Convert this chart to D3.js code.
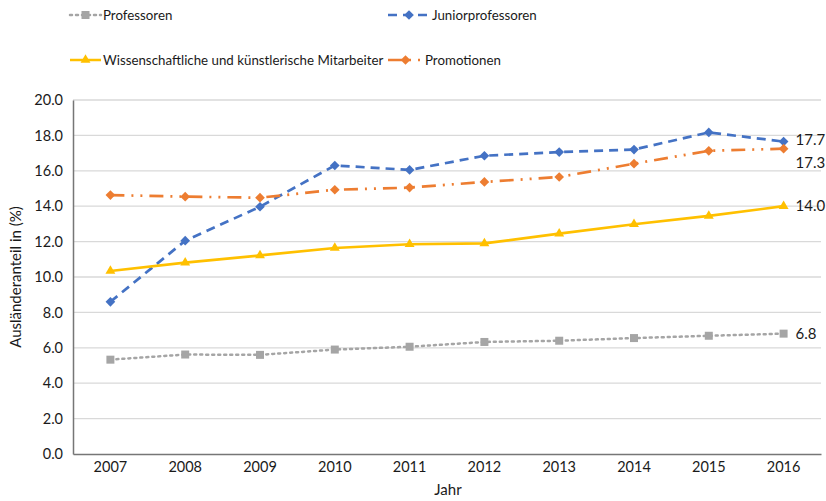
<!DOCTYPE html>
<html>
<head>
  <meta charset="utf-8">
  <script src="https://cdn.jsdelivr.net/npm/d3@7"></script>
  <style type="text/css">
    body { margin: 0; background: #fff; }
    text { font-family: Lato, "Open Sans", sans-serif; fill: #1a1a1a; }
    .tick text { font-size: 14.5px; }
    .grid line { stroke: #d9d9d9; stroke-width: 1.3; }
  </style>
</head>
<body>
  <svg id="chart" width="826" height="501"></svg>
  <script type="text/javascript">

  const years = [2007, 2008, 2009, 2010, 2011, 2012, 2013, 2014, 2015, 2016];
  const professoren = [5.33, 5.62, 5.6, 5.9, 6.06, 6.33, 6.4, 6.55, 6.68, 6.8];
  const junior = [8.6, 12.05, 13.97, 16.3, 16.05, 16.85, 17.06, 17.2, 18.17, 17.65];
  const mitarbeiter = [10.34, 10.81, 11.22, 11.64, 11.85, 11.9, 12.45, 12.98, 13.45, 14.0];
  const promotionen = [14.63, 14.54, 14.48, 14.93, 15.05, 15.37, 15.65, 16.4, 17.13, 17.25];
  const yTicks = [0, 2, 4, 6, 8, 10, 12, 14, 16, 18, 20];

  const series = [
    { name: 'Professoren', values: professoren, color: '#a5a5a5', dash: '2,4', marker: 'square', label: '6.8', dy: 0 },
    { name: 'Juniorprofessoren', values: junior, color: '#4472c4', dash: '9,6', marker: 'diamond', label: '17.7', dy: -2 },
    { name: 'Wissenschaftliche und künstlerische Mitarbeiter', values: mitarbeiter, color: '#ffc000', dash: null, marker: 'triangle', label: '14.0', dy: 0 },
    { name: 'Promotionen', values: promotionen, color: '#ed7d31', dash: '14,7,2,7,2,7', marker: 'diamond', label: '17.3', dy: 14 }
  ];

  const svg = d3.select('#chart');
  const margin = { left: 73, right: 5, top: 100, bottom: 47 };
  const width = 826 - margin.left - margin.right;
  const height = 501 - margin.top - margin.bottom;

  const x = d3.scaleBand().domain(years).range([0, width]);
  const y = d3.scaleLinear().domain([0, 20]).range([height, 0]);
  const cx = (d) => x(d) + x.bandwidth() / 2;

  const g = svg.append('g').attr('transform', `translate(${margin.left},${margin.top})`);

  // gridlines
  g.append('g').attr('class', 'grid')
    .selectAll('line').data(yTicks.slice(1)).enter().append('line')
    .attr('x1', 0).attr('x2', width)
    .attr('y1', (d) => y(d)).attr('y2', (d) => y(d));

  // axes
  const yAxis = g.append('g').call(d3.axisLeft(y).tickValues(yTicks).tickFormat(d3.format('.1f')).tickSize(0).tickPadding(10));
  yAxis.select('.domain').attr('stroke', '#767676').attr('stroke-width', 1.5);

  const xAxis = g.append('g').attr('transform', `translate(0,${height})`)
    .call(d3.axisBottom(x).tickSize(0).tickPadding(8));
  xAxis.select('.domain').attr('stroke', '#767676').attr('stroke-width', 1.5);

  // lines
  const line = d3.line().x((d, i) => cx(years[i])).y((d) => y(d));
  const markerPath = {
    square: d3.symbol().type(d3.symbolSquare).size(64),
    diamond: d3.symbol().type(d3.symbolDiamond2).size(60),
    triangle: d3.symbol().type(d3.symbolTriangle2).size(70)
  };

  series.forEach((s) => {
    g.append('path').datum(s.values)
      .attr('d', line)
      .attr('fill', 'none')
      .attr('stroke', s.color)
      .attr('stroke-width', s.marker === 'square' ? 2.5 : 2.7)
      .attr('stroke-linecap', s.marker === 'square' ? 'round' : 'butt')
      .attr('stroke-dasharray', s.dash);

    g.selectAll(null).data(s.values).enter().append('path')
      .attr('d', markerPath[s.marker]())
      .attr('transform', (d, i) => `translate(${cx(years[i])},${y(d)})`)
      .attr('fill', s.color);

    g.append('text')
      .attr('x', cx(years[years.length - 1]) + 12)
      .attr('y', y(s.values[s.values.length - 1]) + s.dy)
      .attr('dy', '0.35em')
      .style('font-size', '15px')
      .text(s.label);
  });

  // legend
  const legendPos = [[70, 15], [388, 15], [70, 60], [388, 60]];
  series.forEach((s, i) => {
    const [lx, ly] = legendPos[i];
    const lg = svg.append('g').attr('transform', `translate(${lx},${ly})`);
    const lw = i === 1 ? 42 : (i === 3 ? 35 : 31);
    lg.append('line').attr('x1', 0).attr('x2', lw).attr('y1', 0).attr('y2', 0)
      .attr('stroke', s.color).attr('stroke-width', 2.5)
      .attr('stroke-linecap', s.marker === 'square' ? 'round' : 'butt')
      .attr('stroke-dasharray', s.dash);
    lg.append('path').attr('d', markerPath[s.marker]())
      .attr('transform', `translate(${lw / 2},0)`).attr('fill', s.color);
    lg.append('text').attr('x', lw + 2).attr('dy', '0.35em')
      .style('font-size', '13.3px').text(s.name);
  });

  // axis titles
  svg.append('text')
    .attr('transform', `translate(16,${margin.top + height / 2}) rotate(-90)`)
    .attr('text-anchor', 'middle').attr('dy', '0.35em')
    .style('font-size', '15px')
    .text('Ausländeranteil in (%)');

  svg.append('text')
    .attr('x', 448).attr('y', 495)
    .attr('text-anchor', 'middle')
    .style('font-size', '15px')
    .text('Jahr');
  </script>
</body>
</html>
